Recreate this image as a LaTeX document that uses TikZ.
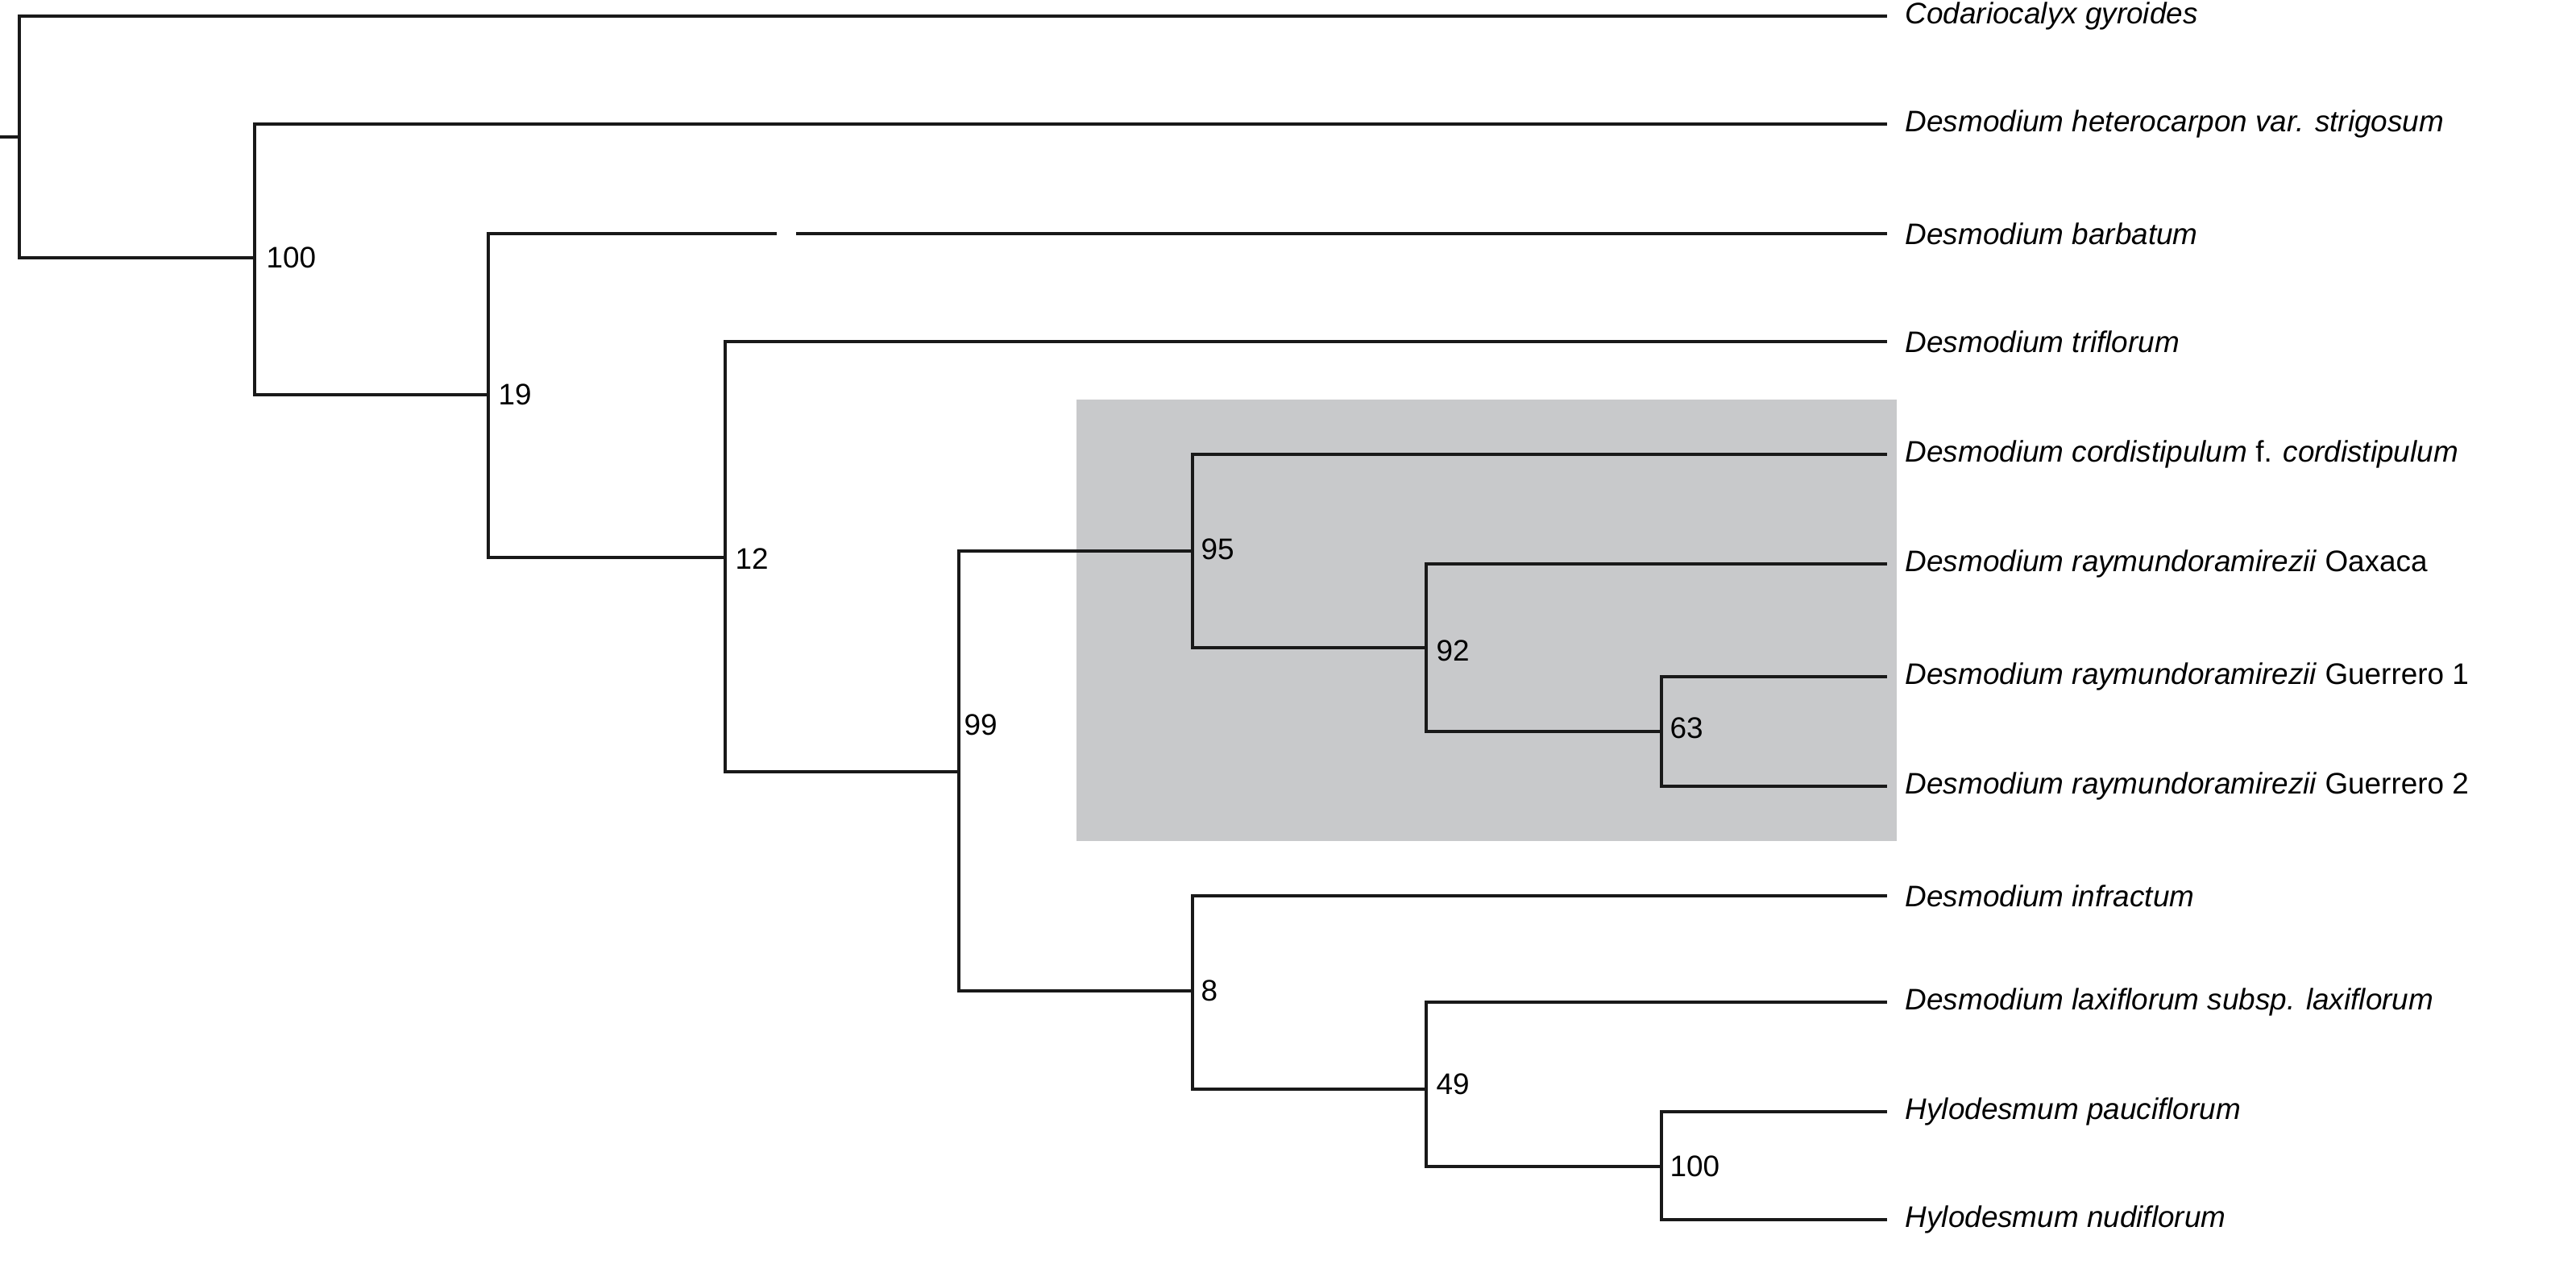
\documentclass[tikz,border=0pt]{standalone}
\usepackage{fontspec}
\setmainfont{Liberation Sans}
\definecolor{boxgrey}{HTML}{C8C9CB}
\begin{document}
\begin{tikzpicture}[x=0.02cm,y=-0.02cm,
  br/.style={line width=1.4pt,color=black!90,line cap=rect},
  lf/.style={anchor=west,inner sep=0pt,font=\fontsize{10.5}{12}\selectfont},
  sup/.style={anchor=west,inner sep=0pt,font=\fontsize{10.5}{12}\selectfont}]
\useasboundingbox (0,0) rectangle (1598.5,787);
\fill[boxgrey] (668,248) rectangle (1177,522);
% leaves
\foreach \n/\y in {L1/10,L2/77,L3/145,L4/212,L5/282,L6/350,L7/420,L8/488,L9/556,L10/622,L11/690,L12/757}
  \coordinate (\n) at (1170,\y);
\node[lf] at (1182,10) {\itshape Codariocalyx gyroides};
\node[lf] at (1182,77) {\itshape Desmodium heterocarpon var. strigosum};
\node[lf] at (1182,145) {\itshape Desmodium barbatum};
\node[lf] at (1182,212) {\itshape Desmodium triflorum};
\node[lf] at (1182,282) {\itshape Desmodium cordistipulum\upshape{} f. \itshape cordistipulum};
\node[lf] at (1182,350) {\itshape Desmodium raymundoramirezii\upshape{} Oaxaca};
\node[lf] at (1182,420) {\itshape Desmodium raymundoramirezii\upshape{} Guerrero 1};
\node[lf] at (1182,488) {\itshape Desmodium raymundoramirezii\upshape{} Guerrero 2};
\node[lf] at (1182,556) {\itshape Desmodium infractum};
\node[lf] at (1182,622) {\itshape Desmodium laxiflorum subsp. laxiflorum};
\node[lf] at (1182,690) {\itshape Hylodesmum pauciflorum};
\node[lf] at (1182,757) {\itshape Hylodesmum nudiflorum};
% internal node coordinates
\coordinate (r) at (12,85);
\coordinate (n100) at (158,160);
\coordinate (n19) at (303,245);
\coordinate (n12) at (450,346);
\coordinate (n99) at (595,479);
\coordinate (n95) at (740,342);
\coordinate (n92) at (885,402);
\coordinate (n63) at (1031,454);
\coordinate (n8) at (740,615);
\coordinate (n49) at (885,676);
\coordinate (n100b) at (1031,724);
% branches
\draw[br] (0,85) -- (r);
\draw[br] (12,160) |- (L1);
\draw[br] (12,160) -- (12,85);
\draw[br] (12,160) -| (n100);
\draw[br] (n100) |- (L2);
\draw[br] (n100) -- (158,245) -- (n19);
\draw[br] (n19) -- (303,145) -- (481,145);
\draw[br] (495,145) -- (L3);
\draw[br] (n19) -- (303,346) -- (n12);
\draw[br] (n12) |- (L4);
\draw[br] (n12) -- (450,479) -- (n99);
\draw[br] (n99) -- (595,342) -- (n95);
\draw[br] (n95) |- (L5);
\draw[br] (n95) -- (740,402) -- (n92);
\draw[br] (n92) |- (L6);
\draw[br] (n92) -- (885,454) -- (n63);
\draw[br] (n63) |- (L7);
\draw[br] (n63) |- (L8);
\draw[br] (n99) -- (595,615) -- (n8);
\draw[br] (n8) |- (L9);
\draw[br] (n8) -- (740,676) -- (n49);
\draw[br] (n49) |- (L10);
\draw[br] (n49) -- (885,724) -- (n100b);
\draw[br] (n100b) |- (L11);
\draw[br] (n100b) |- (L12);
% support values
\node[sup] at (165,160) {100};
\node[sup] at (309,245) {19};
\node[sup] at (456,347) {12};
\node[sup] at (598,450) {99};
\node[sup] at (745,341) {95};
\node[sup] at (891,404) {92};
\node[sup] at (1036,452) {63};
\node[sup] at (745,615) {8};
\node[sup] at (891,673) {49};
\node[sup] at (1036,724) {100};
\end{tikzpicture}
\end{document}
